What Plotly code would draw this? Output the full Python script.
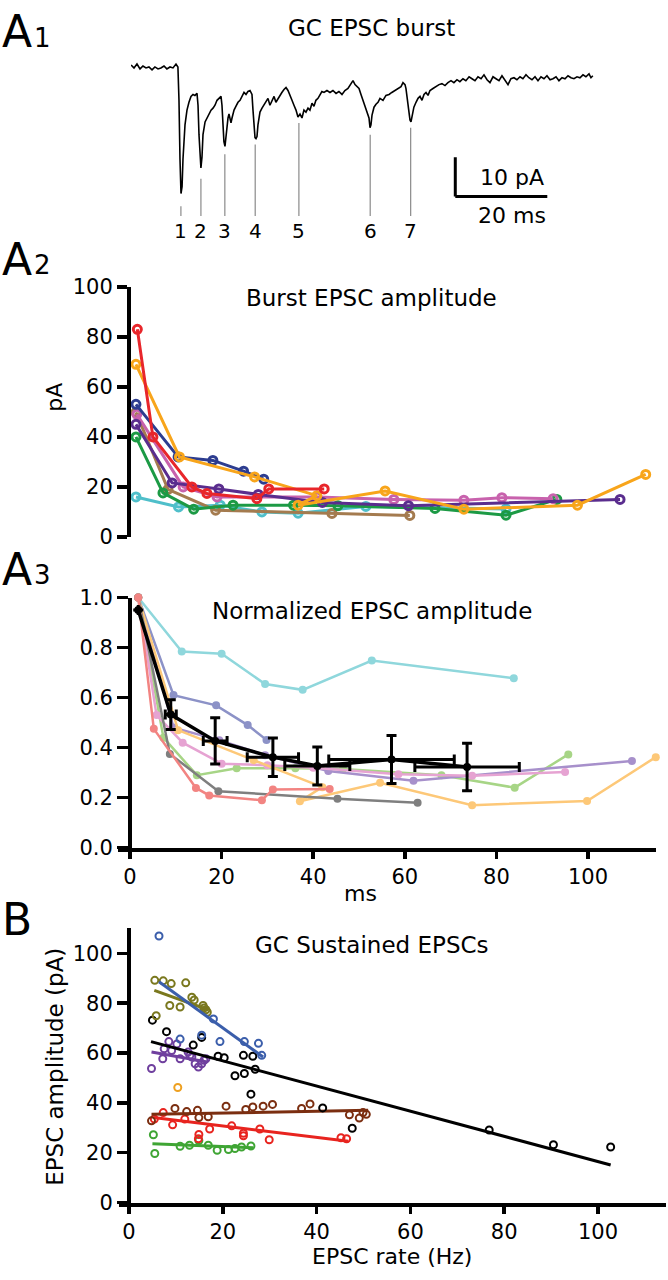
import plotly.graph_objects as go

W, H = 668, 1280
FONT = "DejaVu Sans"

# ---------------- A1: GC EPSC burst trace (ms, pA) ----------------
trace_t = [0.0, 0.65, 1.3, 1.96, 2.6, 3.26, 3.9, 4.57, 5.2, 5.87, 6.5, 7.17, 7.8, 8.48, 9.13, 9.78, 10.2,
           10.43, 10.65, 10.87, 11.1, 11.3, 11.74, 12.17, 12.6, 13.04, 13.48, 13.9, 14.35, 14.57, 14.78,
           15.0, 15.2, 15.43, 15.65, 16.1, 16.5, 16.96, 17.4, 17.83, 18.26, 18.7, 19.13, 19.57, 19.78,
           20.0, 20.2, 20.43, 20.65, 20.87, 21.09, 21.3, 21.5, 21.74, 21.96, 22.4, 22.83, 23.26, 23.7,
           24.13, 24.57, 25.0, 25.43, 25.87, 26.3, 26.52, 26.74, 26.96, 27.17, 27.39, 27.6, 28.04, 28.48,
           28.9, 29.35, 29.78, 30.2, 30.65, 31.1, 31.5, 31.96, 32.4, 32.8, 33.26, 33.7, 34.13, 34.57,
           35.0, 35.43, 35.87, 36.3, 36.74, 37.17, 37.6, 38.04, 38.48, 38.9, 39.35, 39.78, 40.2, 40.65,
           41.1, 41.5, 41.96, 42.6, 43.26, 43.9, 44.57, 45.2, 45.87, 46.5, 47.17, 47.8, 48.26, 48.7,
           49.13, 49.57, 50.0, 50.43, 50.87, 51.3, 51.74, 51.96, 52.17, 52.4, 52.83, 53.26, 53.7, 54.13,
           54.78, 55.43, 56.1, 56.7, 57.4, 58.04, 58.7, 59.13, 59.57, 59.78, 60.2, 60.65, 60.87, 61.1,
           61.5, 61.96, 62.4, 62.83, 63.26, 63.7, 64.13, 64.57, 65.0, 65.65, 66.3, 66.96, 67.6, 68.26,
           68.9, 69.57, 70.2, 70.87, 71.5, 72.17, 72.8, 73.5, 74.13, 74.78, 75.43, 76.1, 76.74, 77.4,
           78.04, 78.7, 79.35, 80.0, 80.65, 81.3, 81.96, 82.6, 83.26, 83.9, 84.57, 85.2, 85.87, 86.5,
           87.17, 87.83, 88.48, 89.13, 89.78, 90.43, 91.1, 91.74, 92.4, 93.04, 93.7, 94.35, 95.0, 95.65,
           96.3, 96.96, 97.6, 98.26, 98.9, 99.57, 100.0, 100.4]
trace_i = [0.25, -0.5, 0.5, -0.75, 0, -0.5, -0.25, -1, -0.25, -0.75, -0.5, 0, -0.75, -0.25, -0.5, 0.5, -0.25,
           -8.75, -23.75, -32.5, -30.75, -23.75, -15, -11.25, -9.25, -7.75, -7.25, -7.5, -7, -10, -17.5,
           -23.75, -26, -23.25, -17.5, -14.25, -13.25, -12.5, -11.25, -10.75, -10, -8.75, -8.25, -7.75, -10,
           -15, -19.25, -20.5, -17.5, -16.25, -13.25, -12.25, -13.75, -14.5, -13.25, -11.25, -10.25, -9.25, -8.75,
           -7.75, -6.75, -7.25, -6.5, -6.25, -7.25, -11.25, -16.25, -18.25, -18.5, -18, -15, -11.75, -10.75,
           -10, -9.25, -8.25, -10, -8.75, -7.75, -9.25, -8.25, -7.25, -6.75, -6, -5.5, -6.25, -7.75,
           -8.75, -10, -11.25, -13, -12.25, -13.25, -11.25, -11.75, -10.75, -11.25, -9.5, -10.25, -8.75, -8.25,
           -7.25, -6.5, -6.75, -6.25, -6.75, -6.25, -7, -6.5, -7.25, -6.25, -5.75, -4.75, -3.75, -4.75,
           -5.25, -5.75, -7.25, -8.75, -10, -11.25, -13.25, -15.75, -15, -12.5, -10.5, -9.75, -9.25, -8.25,
           -8.75, -7.5, -7.25, -6.75, -6.25, -5.75, -5.25, -4.25, -4.75, -5.75, -10, -13.75, -14.25, -12.5,
           -10.5, -9.25, -8.25, -7.75, -8.75, -7.25, -6.75, -7.5, -6.25, -5.75, -5.25, -4.75, -4.5, -5,
           -4.25, -3.75, -4.25, -3.5, -4, -3.25, -3.75, -2.75, -3.25, -3.75, -2.75, -3.25, -2.25, -3.5,
           -4.25, -2.75, -3.25, -3.75, -2.5, -3.75, -4.75, -3.25, -3, -3.5, -2.75, -3.25, -2.25, -3,
           -3.5, -2.75, -3.75, -2.75, -3.25, -2.5, -3.5, -3.25, -2.75, -3.75, -3, -3.25, -2.5, -3,
           -3.25, -2.75, -3, -2.25, -2.75, -2, -3, -2.5]
event_t = [10.85, 15.2, 20.4, 27.0, 36.5, 52.0, 60.8]
event_top = [-35.75, -28.75, -22.5, -20.0, -14.5, -17.5, -15.75]
event_labels = ["1", "2", "3", "4", "5", "6", "7"]
scalebar_t0, scalebar_i0 = 70.5, -33.25
scalebar_dt, scalebar_di = 20, 10

# ---------------- A2: burst EPSC amplitude (ms, pA) ----------------
a2_red_t = [1.6, 5.0, 13.5, 16.8, 27.7, 30.3, 42.4]
a2_red = [83, 40, 20, 17.4, 15.3, 19.2, 19.2]
a2_orange_t = [1.3, 10.8, 27.2, 40.8, 36.7, 55.7, 72.9, 97.7, 112.6]
a2_orange = [69, 32, 24, 16.5, 12.7, 18.4, 11.1, 12.7, 25]
a2_navy_t = [1.3, 10.5, 18.1, 24.8, 29.2]
a2_navy = [53, 32, 30.6, 26.3, 23.1]
a2_purple_t = [1.3, 9.2, 19.4, 28.0, 42.0, 60.8, 107.0]
a2_purple = [45, 21.6, 19.2, 17.0, 13.8, 12.5, 15]
a2_magenta_t = [1.5, 11.6, 19.0, 40.8, 57.6, 72.9, 81.2, 92.4]
a2_magenta = [49, 20, 16, 16, 15, 14.7, 15.7, 15.3]
a2_green_t = [1.3, 7.2, 13.9, 22.5, 35.7, 45.4, 66.6, 82.1, 93.2]
a2_green = [40, 17.6, 11.1, 12.7, 12.7, 12.5, 11.4, 8.7, 15]
a2_brown_t = [1.3, 8.3, 18.7, 44.1, 61.1]
a2_brown = [49.8, 19, 10.7, 9.4, 8.6]
a2_cyan_t = [1.3, 10.6, 19.7, 28.8, 36.7, 51.5, 82.1]
a2_cyan = [16, 12, 12.7, 10, 9.5, 12.2, 11.2]

# ---------------- A3: normalized EPSC amplitude ----------------
a3_cyan_t = [1.8, 11.3, 20.0, 29.5, 37.7, 52.8, 83.8]
a3_cyan = [1.0, 0.784, 0.775, 0.654, 0.631, 0.748, 0.677]
a3_peri_t = [1.8, 9.5, 18.8, 25.7, 29.8]
a3_peri = [1.0, 0.61, 0.569, 0.49, 0.431]
a3_salmon_t = [1.8, 5.2, 14.4, 17.3, 28.8, 31.2, 43.6]
a3_salmon = [1.0, 0.475, 0.239, 0.209, 0.19, 0.233, 0.235]
a3_gray_t = [1.8, 8.7, 19.3, 45.3, 62.8]
a3_gray = [1.0, 0.375, 0.226, 0.196, 0.18]
a3_green_t = [1.8, 7.3, 14.6, 23.3, 36.1, 46.5, 68.0, 84.0, 95.7]
a3_green = [1.0, 0.44, 0.29, 0.318, 0.318, 0.315, 0.29, 0.24, 0.373]
a3_orange_t = [1.8, 10.5, 27.0, 42.0, 37.1, 54.6, 74.7, 99.8, 114.8]
a3_orange = [1.0, 0.47, 0.35, 0.242, 0.186, 0.26, 0.17, 0.187, 0.362]
a3_lav_t = [1.8, 9.5, 19.5, 29.5, 43.3, 61.9, 109.6]
a3_lav = [1.0, 0.48, 0.43, 0.37, 0.307, 0.268, 0.347]
a3_pink_t = [1.8, 5.8, 11.5, 20.0, 30.0, 40.0, 58.6, 74.7, 95.0]
a3_pink = [1.0, 0.53, 0.42, 0.336, 0.33, 0.32, 0.294, 0.288, 0.303]
a3_mean_t = [1.8, 8.9, 18.6, 31.2, 40.9, 57.1, 73.6]
a3_mean = [0.95, 0.532, 0.427, 0.362, 0.327, 0.353, 0.323]
a3_mean_yerr = [0.0, 0.059, 0.092, 0.077, 0.076, 0.096, 0.095]
a3_mean_xerr = [0.0, 1.2, 2.6, 5.6, 7.1, 13.7, 11.4]

# ---------------- B: sustained EPSCs (Hz, pA) ----------------
b_blue_x = [6.4, 18.0, 15.5, 10.9, 19.4, 24.6, 27.6, 28.3]
b_blue_y = [107, 73.7, 67.2, 65.6, 64.6, 64.6, 63.9, 59.1]
b_blue_fit_x, b_blue_fit_y = [6.4, 28.6], [88.6, 58.4]
b_olive_x = [5.5, 7.3, 9.0, 12.1, 8.7, 10.9, 13.4, 13.9, 15.8, 16.4, 16.7, 16.0, 5.8]
b_olive_y = [89.2, 89.0, 87.9, 88.2, 79.1, 78.5, 82.4, 81.3, 79.1, 77.4, 76.4, 78.1, 75.0]
b_olive_fit_x, b_olive_fit_y = [5.4, 17.0], [85.2, 77.3]
b_black_x = [5.0, 8.0, 13.7, 15.5, 19.0, 20.3, 24.4, 26.4, 22.6, 24.6, 26.9, 26.0, 41.3, 47.6, 76.8, 90.5, 102.7]
b_black_y = [73.2, 68.6, 63.2, 66.3, 58.7, 58.1, 59.1, 58.7, 50.9, 51.8, 53.5, 43.5, 38.0, 29.8, 29.1, 23.2, 22.3]
b_black_fit_x, b_black_fit_y = [4.7, 102.7], [64.6, 15.1]
b_purple_x = [4.8, 7.2, 7.5, 8.5, 9.1, 10.2, 10.9, 12.6, 13.4, 14.1, 14.8, 15.5, 16.0, 16.4, 13.0]
b_purple_y = [53.8, 57.7, 61.7, 64.6, 61.0, 63.6, 57.7, 60.4, 58.4, 55.7, 54.4, 55.7, 57.1, 57.7, 59.1]
b_purple_fit_x, b_purple_fit_y = [4.8, 16.7], [60.4, 56.4]
b_orange_x, b_orange_y = [10.4], [46.2]
b_brown_x = [4.8, 9.8, 12.3, 14.6, 16.9, 14.9, 20.7, 24.9, 26.4, 28.6, 30.6, 36.8, 38.6, 47.0, 49.1, 49.9, 50.6]
b_brown_y = [32.8, 37.8, 36.5, 37.0, 34.4, 34.1, 38.7, 37.4, 38.4, 38.7, 39.4, 37.8, 39.6, 35.2, 33.9, 36.1, 35.4]
b_brown_fit_x, b_brown_fit_y = [4.8, 51.0], [35.4, 37.0]
b_red_x = [5.4, 7.3, 9.3, 11.9, 14.9, 14.8, 17.2, 21.9, 24.4, 24.4, 27.9, 29.9, 45.2, 46.4]
b_red_y = [33.5, 36.1, 31.2, 33.5, 27.3, 25.6, 29.5, 30.8, 27.8, 26.8, 29.5, 25.2, 26.0, 25.6]
b_red_fit_x, b_red_fit_y = [5.2, 46.8], [34.1, 24.6]
b_green_x = [5.2, 5.5, 10.9, 12.9, 14.9, 16.9, 18.8, 21.2, 22.6, 24.0, 26.0]
b_green_y = [27.2, 19.7, 22.6, 23.0, 24.9, 23.0, 21.0, 21.3, 21.7, 22.3, 22.7]
b_green_fit_x, b_green_fit_y = [5.0, 26.5], [23.6, 22.0]


def PX(x):
    return x / W


def PY(y):
    return 1 - y / H


fig = go.Figure()

# A1
fig.add_trace(go.Scatter(x=trace_t, y=trace_i, mode="lines", line=dict(color="black", width=1.6),
                         xaxis="x", yaxis="y", hoverinfo="skip", cliponaxis=False))
for t, top in zip(event_t, event_top):
    fig.add_shape(type="line", xref="x", yref="y", x0=t, x1=t, y0=top, y1=-38.25,
                  line=dict(color="#8a8a8a", width=1.2))
for t, lab in zip(event_t, event_labels):
    fig.add_annotation(x=t, y=-42.0, xref="x", yref="y", text=lab, showarrow=False,
                       font=dict(family=FONT, size=20, color="black"))
fig.add_shape(type="line", xref="x", yref="y", x0=scalebar_t0, x1=scalebar_t0,
              y0=scalebar_i0, y1=scalebar_i0 + scalebar_di, line=dict(color="black", width=3))
fig.add_shape(type="line", xref="x", yref="y", x0=scalebar_t0, x1=scalebar_t0 + scalebar_dt,
              y0=scalebar_i0, y1=scalebar_i0, line=dict(color="black", width=3))

# A2
a2_series = [
    (a2_cyan_t, a2_cyan, "#4fbfca"),
    (a2_brown_t, a2_brown, "#a47b4f"),
    (a2_green_t, a2_green, "#1c9a45"),
    (a2_magenta_t, a2_magenta, "#c862ad"),
    (a2_purple_t, a2_purple, "#5a2d8e"),
    (a2_navy_t, a2_navy, "#2d3d90"),
    (a2_orange_t, a2_orange, "#f8a51b"),
    (a2_red_t, a2_red, "#e8262b"),
]
for t, v, c in a2_series:
    fig.add_trace(go.Scatter(x=t, y=v, mode="lines+markers", xaxis="x2", yaxis="y2",
                             line=dict(color=c, width=3),
                             marker=dict(symbol="circle-open", size=8, color=c, line=dict(width=3, color=c)),
                             cliponaxis=False, hoverinfo="skip"))

# A3
a3_series = [
    (a3_cyan_t, a3_cyan, "#8fd7dc"),
    (a3_peri_t, a3_peri, "#8c92c7"),
    (a3_green_t, a3_green, "#a7d586"),
    (a3_lav_t, a3_lav, "#a790cb"),
    (a3_pink_t, a3_pink, "#e6a3d2"),
    (a3_orange_t, a3_orange, "#fdc878"),
    (a3_gray_t, a3_gray, "#7f7f7f"),
    (a3_salmon_t, a3_salmon, "#f28482"),
]
for t, v, c in a3_series:
    fig.add_trace(go.Scatter(x=t, y=v, mode="lines+markers", xaxis="x3", yaxis="y3",
                             line=dict(color=c, width=2.5),
                             marker=dict(symbol="circle", size=8, color=c),
                             cliponaxis=False, hoverinfo="skip"))
fig.add_trace(go.Scatter(x=a3_mean_t, y=a3_mean, mode="lines+markers", xaxis="x3", yaxis="y3",
                         line=dict(color="black", width=3.5),
                         marker=dict(symbol="circle", size=8, color="black"),
                         error_y=dict(type="data", array=a3_mean_yerr, color="black", thickness=3, width=5),
                         error_x=dict(type="data", array=a3_mean_xerr, color="black", thickness=3, width=5),
                         cliponaxis=False, hoverinfo="skip"))

# B
b_series = [
    (b_green_x, b_green_y, b_green_fit_x, b_green_fit_y, "#3fa534"),
    (b_red_x, b_red_y, b_red_fit_x, b_red_fit_y, "#e8241f"),
    (b_brown_x, b_brown_y, b_brown_fit_x, b_brown_fit_y, "#7b2e10"),
    (b_purple_x, b_purple_y, b_purple_fit_x, b_purple_fit_y, "#6f3f9e"),
    (b_black_x, b_black_y, b_black_fit_x, b_black_fit_y, "#000000"),
    (b_olive_x, b_olive_y, b_olive_fit_x, b_olive_fit_y, "#7a781e"),
    (b_blue_x, b_blue_y, b_blue_fit_x, b_blue_fit_y, "#3b5eab"),
]
for x, y, fx, fy, c in b_series:
    fig.add_trace(go.Scatter(x=x, y=y, mode="markers", xaxis="x4", yaxis="y4",
                             marker=dict(symbol="circle-open", size=7, color=c, line=dict(width=2, color=c)),
                             cliponaxis=False, hoverinfo="skip"))
    fig.add_trace(go.Scatter(x=fx, y=fy, mode="lines", xaxis="x4", yaxis="y4",
                             line=dict(color=c, width=3), cliponaxis=False, hoverinfo="skip"))
fig.add_trace(go.Scatter(x=b_orange_x, y=b_orange_y, mode="markers", xaxis="x4", yaxis="y4",
                         marker=dict(symbol="circle-open", size=7, color="#eea020",
                                     line=dict(width=2, color="#eea020")),
                         cliponaxis=False, hoverinfo="skip"))

tickfont = dict(family=FONT, size=21, color="black")
axis_common = dict(showgrid=False, zeroline=False, showline=True, linecolor="black",
                   ticks="outside", tickcolor="black", tickfont=tickfont)

fig.update_layout(
    width=W, height=H, margin=dict(l=0, r=0, t=0, b=0), autosize=False,
    paper_bgcolor="white", plot_bgcolor="white", showlegend=False,
    font=dict(family=FONT, color="black"),
    xaxis=dict(domain=[PX(131), PX(600)], range=[0, 101.96], visible=False, anchor="y"),
    yaxis=dict(domain=[PY(230), PY(40)], range=[-43.75, 3.75], visible=False, anchor="x"),
    xaxis2=dict(domain=[PX(118), PX(656)], range=[-2.62, 114.85], visible=False, anchor="y2"),
    yaxis2=dict(domain=[PY(535), PY(280)], range=[0, 100], anchor="free", position=PX(128),
                tickvals=[0, 20, 40, 60, 80, 100], ticklen=10, tickwidth=3.5, linewidth=3.5,
                **axis_common),
    xaxis3=dict(domain=[PX(118), PX(656)], range=[-2.62, 114.85], anchor="y3",
                tickvals=[0, 20, 40, 60, 80, 100], ticklen=7, tickwidth=3.5, linewidth=4,
                **axis_common),
    yaxis3=dict(domain=[PY(851.7), PY(596.7)], range=[0, 1.0], anchor="free", position=PX(130),
                tickvals=[0, 0.2, 0.4, 0.6, 0.8, 1.0],
                ticktext=["0.0", "0.2", "0.4", "0.6", "0.8", "1.0"],
                ticklen=11, tickwidth=3.5, linewidth=4, **axis_common),
    xaxis4=dict(domain=[PX(119), PX(666)], range=[-2.13, 114.5], anchor="y4",
                tickvals=[0, 20, 40, 60, 80, 100], ticklen=7, tickwidth=3.5, linewidth=4,
                **axis_common),
    yaxis4=dict(domain=[PY(1213.3), PY(933)], range=[0, 110.4], anchor="free", position=PX(129),
                tickvals=[0, 20, 40, 60, 80, 100], ticklen=10, tickwidth=3.5, linewidth=4,
                **axis_common),
)


def label(text, x, y, size, xanchor="center", yanchor="middle", angle=0):
    fig.add_annotation(x=PX(x), y=PY(y), xref="paper", yref="paper", text=text, showarrow=False,
                       xanchor=xanchor, yanchor=yanchor, textangle=angle,
                       font=dict(family=FONT, size=size, color="black"))


# panel letters
for big, sub, ybase in [("A", "1", 20), ("A", "2", 252), ("A", "3", 568), ("B", "", 925)]:
    label(big, 0, ybase, 44, xanchor="left")
    if sub:
        label(sub, 32, ybase + 6, 26, xanchor="left")

# titles
label("GC EPSC burst", 372, 16, 23)
label("10 pA", 478, 169, 22, xanchor="left")
label("20 ms", 476, 207, 22, xanchor="left")
label("Burst EPSC amplitude", 372, 291, 23)
label("pA", 55, 393, 22, angle=-90)
label("Normalized EPSC amplitude", 372, 610, 23)
label("ms", 360, 898, 22)
label("GC Sustained EPSCs", 372, 951, 23)
label("EPSC amplitude (pA)", 55, 1075, 23, angle=-90)
label("EPSC rate (Hz)", 392, 1268, 22)

post = ("document.documentElement.style.margin='0';document.documentElement.style.padding='0';"
        "document.documentElement.style.overflow='hidden';"
        "document.body.style.margin='0';document.body.style.padding='0';"
        "document.body.style.overflow='hidden';document.body.style.height='1280px';"
        "var gd=document.getElementById('{plot_id}');gd.style.display='block';"
        "if(gd.parentNode){gd.parentNode.style.height='1280px';gd.parentNode.style.overflow='hidden';}")
fig.write_html("out.html", config={"displayModeBar": False, "staticPlot": True}, post_script=post)
